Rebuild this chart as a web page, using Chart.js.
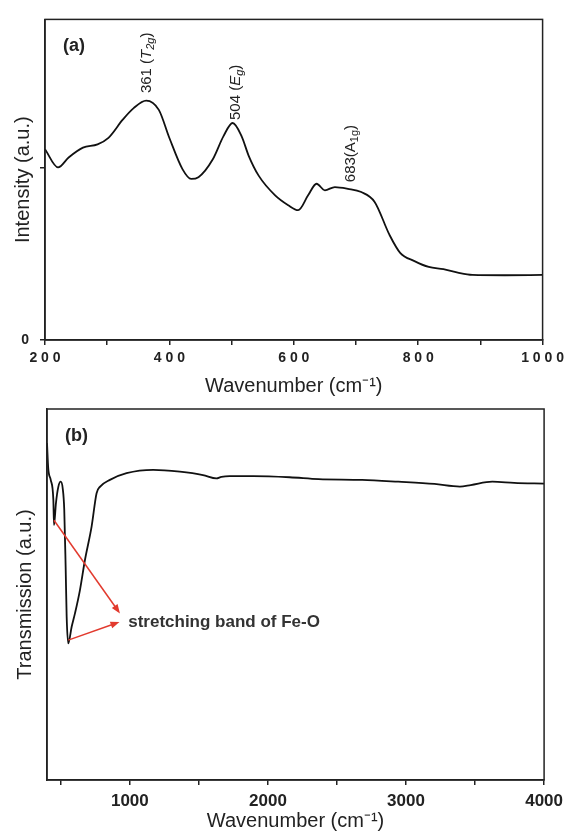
<!DOCTYPE html>
<html>
<head>
<meta charset="utf-8">
<script src="https://cdn.jsdelivr.net/npm/chart.js"></script>
<style>
  body { margin: 0; background: #fff; }
  #wrap { position: relative; width: 569px; height: 833px; }
  canvas { position: absolute; left: 0; }
</style>
</head>
<body>
<div id="wrap">
  <canvas id="ramanChart" width="569" height="398" style="top:0"></canvas>
  <canvas id="ftirChart" width="569" height="435" style="top:398px"></canvas>
</div>
<script>
// (a) Raman spectrum
const ramanX = [200, 221, 238, 261, 284.5, 302, 325, 342.5, 362.7, 383, 400, 421, 435, 446.7, 469.8, 487, 501.7, 516, 527.5, 543.5, 570, 591, 607, 623, 636.6, 650, 666, 687, 708.5, 730, 753.7, 771, 794, 817, 840.6, 863.7, 887, 939, 1000];
const ramanY = [1.105, 1.0, 1.057, 1.114, 1.133, 1.171, 1.276, 1.343, 1.387, 1.333, 1.17, 0.99, 0.933, 0.943, 1.047, 1.181, 1.257, 1.181, 1.067, 0.952, 0.838, 0.781, 0.752, 0.838, 0.905, 0.867, 0.886, 0.876, 0.857, 0.8, 0.61, 0.505, 0.457, 0.423, 0.41, 0.39, 0.377, 0.375, 0.377];
const ramanTicks = [200, 300, 400, 500, 600, 700, 800, 900, 1000];
const ramanYTicks = [0, 1];

// peak labels: where each label sits, and its text parts (i = italic, s = subscript)
const peakAt = [363, 506, 690];
const peakLabelY = [1.43, 1.274, 0.914];
const peakText = [
  [['361 (', ''], ['T', 'i'], ['2g', 'is'], [')', '']],
  [['504 (', ''], ['E', 'i'], ['g', 'is'], [')', '']],
  [['683(', ''], ['A', ''], ['1g', 's'], [')', '']]
];

// (b) FTIR spectrum
const ftirX = [400, 409, 427, 446, 450.6, 465, 482, 499, 513.5, 525, 535, 542.4, 554, 578.6, 602.5, 638.6, 674.8, 723, 759, 783, 855.5, 976, 1169, 1362, 1530, 1627, 1663, 1723, 1895, 2157, 2367, 2682, 2944, 3206, 3390, 3469, 3625, 3783, 4000];
const ftirY = [90.8, 84, 80.9, 75.5, 68.7, 74.7, 79, 80.4, 78.7, 72.8, 57.5, 44, 36.8, 41.3, 44.9, 51.2, 59.3, 68.3, 77.3, 79, 80.9, 82.7, 83.6, 83.1, 82.2, 81.3, 81.7, 81.9, 81.9, 81.6, 81.1, 80.9, 80.4, 79.8, 79.1, 79.5, 80.4, 80.1, 79.9];
const ftirTicks = [500, 1000, 1500, 2000, 2500, 3000, 3500, 4000];

const FONT = '"Liberation Sans", Arial, sans-serif';
Chart.defaults.font.family = FONT;
Chart.defaults.color = '#222';

// box around the plot area + panel letter
function framePlugin(letter) {
  return {
    id: 'frame',
    afterDraw(chart) {
      const {ctx, chartArea: a} = chart;
      ctx.save();
      ctx.strokeStyle = '#222';
      ctx.lineWidth = 1.5;
      ctx.strokeRect(a.left, a.top, a.right - a.left, a.bottom - a.top);
      ctx.fillStyle = '#222';
      ctx.font = 'bold 18px ' + FONT;
      ctx.textBaseline = 'middle';
      ctx.fillText(letter, a.left + 18, a.top + 27);
      ctx.restore();
    }
  };
}

const peakLabels = {
  id: 'peakLabels',
  afterDatasetsDraw(chart) {
    const {ctx, scales: {x, y}} = chart;
    ctx.save();
    ctx.fillStyle = '#222';
    ctx.textBaseline = 'alphabetic';
    peakText.forEach((parts, i) => {
      ctx.save();
      ctx.translate(x.getPixelForValue(peakAt[i]) + 5, y.getPixelForValue(peakLabelY[i]));
      ctx.rotate(-Math.PI / 2);
      let pos = 0;
      parts.forEach(([t, st]) => {
        const sub = st.includes('s');
        ctx.font = (st.includes('i') ? 'italic ' : '') + (sub ? '11px ' : '15px ') + FONT;
        ctx.fillText(t, pos, sub ? 3 : 0);
        pos += ctx.measureText(t).width;
      });
      ctx.restore();
    });
    ctx.restore();
  }
};

function arrow(ctx, x1, y1, x2, y2) {
  const ang = Math.atan2(y2 - y1, x2 - x1);
  ctx.beginPath();
  ctx.moveTo(x1, y1);
  ctx.lineTo(x2 - 6 * Math.cos(ang), y2 - 6 * Math.sin(ang));
  ctx.stroke();
  ctx.beginPath();
  ctx.moveTo(x2, y2);
  ctx.lineTo(x2 - 9 * Math.cos(ang) + 3.5 * Math.sin(ang), y2 - 9 * Math.sin(ang) - 3.5 * Math.cos(ang));
  ctx.lineTo(x2 - 9 * Math.cos(ang) - 3.5 * Math.sin(ang), y2 - 9 * Math.sin(ang) + 3.5 * Math.cos(ang));
  ctx.closePath();
  ctx.fill();
}

const bandNote = {
  id: 'bandNote',
  afterDatasetsDraw(chart) {
    const {ctx, scales: {x, y}} = chart;
    ctx.save();
    ctx.strokeStyle = '#e23a2e';
    ctx.fillStyle = '#e23a2e';
    ctx.lineWidth = 1.5;
    arrow(ctx, x.getPixelForValue(450.6), y.getPixelForValue(70), x.getPixelForValue(928), y.getPixelForValue(44.9));
    arrow(ctx, x.getPixelForValue(554), y.getPixelForValue(37.7), x.getPixelForValue(925), y.getPixelForValue(42.6));
    ctx.fillStyle = '#333';
    ctx.font = 'bold 17px ' + FONT;
    ctx.textBaseline = 'middle';
    ctx.fillText('stretching band of Fe-O', x.getPixelForValue(988), y.getPixelForValue(42.6));
    ctx.restore();
  }
};

const axisGrid = {drawOnChartArea: false, drawTicks: true, tickLength: 5, color: '#222', lineWidth: 1.5};
const axisBorder = {display: true, color: '#222', width: 1.5};
const titleFont = {size: 20, family: FONT};

new Chart('ramanChart', {
  type: 'line',
  data: {
    datasets: [{
      data: ramanX.map((v, i) => ({x: v, y: ramanY[i]})),
      borderColor: '#111',
      borderWidth: 1.8,
      pointRadius: 0,
      cubicInterpolationMode: 'monotone'
    }]
  },
  options: {
    responsive: false,
    animation: false,
    layout: {padding: {top: 15, right: 23, left: 0, bottom: 0}},
    plugins: {legend: {display: false}, tooltip: {enabled: false}},
    scales: {
      x: {
        type: 'linear', min: 200, max: 1000,
        afterBuildTicks: s => { s.ticks = ramanTicks.map(v => ({value: v})); },
        afterFit: s => { s.height = 58; },
        grid: axisGrid, border: axisBorder,
        ticks: {
          autoSkip: false, maxRotation: 0, padding: 5,
          font: {size: 14, weight: 'bold'},
          callback: v => v % 200 === 0 ? String(v).split('').join(' ') : ''
        },
        title: {display: true, text: 'Wavenumber (cm⁻¹)', font: titleFont, padding: {top: 0, bottom: 0}}
      },
      y: {
        min: 0, max: 1.857,
        afterBuildTicks: s => { s.ticks = ramanYTicks.map(v => ({value: v})); },
        afterFit: s => { s.width = 45; },
        grid: axisGrid, border: axisBorder,
        ticks: {padding: 11, font: {size: 14, weight: 'bold'}, callback: v => v === 0 ? '0' : ''},
        title: {display: true, text: 'Intensity (a.u.)', font: titleFont, padding: {top: 11, bottom: 0}}
      }
    }
  },
  plugins: [framePlugin('(a)'), peakLabels]
});

new Chart('ftirChart', {
  type: 'line',
  data: {
    datasets: [{
      data: ftirX.map((v, i) => ({x: v, y: ftirY[i]})),
      borderColor: '#111',
      borderWidth: 1.8,
      pointRadius: 0,
      cubicInterpolationMode: 'monotone'
    }]
  },
  options: {
    responsive: false,
    animation: false,
    layout: {padding: {top: 11, right: 24, left: 0, bottom: 0}},
    plugins: {legend: {display: false}, tooltip: {enabled: false}},
    scales: {
      x: {
        type: 'linear', min: 400, max: 4000,
        afterBuildTicks: s => { s.ticks = ftirTicks.map(v => ({value: v})); },
        afterFit: s => { s.height = 53; },
        grid: axisGrid, border: axisBorder,
        ticks: {
          autoSkip: false, maxRotation: 0, padding: 6,
          font: {size: 17, weight: 'bold'},
          callback: v => v % 1000 === 0 ? String(v) : ''
        },
        title: {display: true, text: 'Wavenumber (cm⁻¹)', font: titleFont, padding: {top: 0, bottom: 0}}
      },
      y: {
        min: 0, max: 100,
        afterFit: s => { s.width = 47; },
        grid: {display: false}, border: axisBorder,
        ticks: {display: false},
        title: {display: true, text: 'Transmission (a.u.)', font: titleFont, padding: {top: 13, bottom: 0}}
      }
    }
  },
  plugins: [framePlugin('(b)'), bandNote]
});
</script>
</body>
</html>
